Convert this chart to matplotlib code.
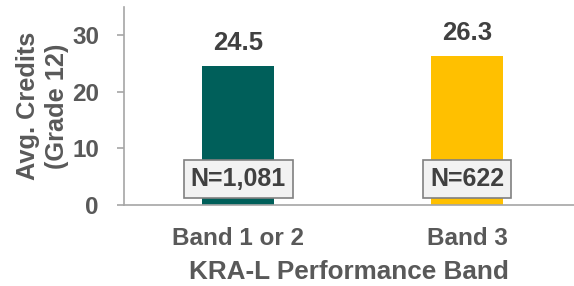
import matplotlib.pyplot as plt

plt.rcParams['font.family'] = ['Liberation Sans', 'DejaVu Sans']
plt.rcParams['font.weight'] = 'bold'

bands = ['Band 1 or 2', 'Band 3']
avg_credits = [24.5, 26.3]
n_labels = ['N=1,081', 'N=622']
bar_colors = ['#005F5A', '#FFC000']

fig = plt.figure(figsize=(5.74, 2.86), dpi=100)
ax = fig.add_axes([124 / 574, 81 / 286, 450 / 574, 198 / 286])

x = list(range(len(bands)))
ax.bar(x, avg_credits, width=0.315, color=bar_colors, zorder=2)

# value labels above bars
for xi, v in zip(x, avg_credits):
    ax.annotate(f'{v}', (xi, v), xytext=(0, 8), textcoords='offset points',
                ha='center', va='bottom', fontsize=18.5, fontweight='bold',
                color='#404040')

# N boxes near the base
for xi, lab in zip(x, n_labels):
    ax.text(xi, 4.6, lab, ha='center', va='center', fontsize=18,
            fontweight='bold', color='#404040', zorder=3,
            bbox=dict(boxstyle='square,pad=0.28', facecolor='#F2F2F2',
                      edgecolor='#808080', linewidth=1.2))

ax.set_xlim(-0.5, 1.467)
ax.set_ylim(0, 35)
ax.set_yticks([0, 10, 20, 30])
ax.set_xticks(x)
ax.set_xticklabels(bands)

for s in ['top', 'right']:
    ax.spines[s].set_visible(False)
for s in ['left', 'bottom']:
    ax.spines[s].set_color('#A6A6A6')
    ax.spines[s].set_linewidth(1.2)

ax.tick_params(axis='y', length=5, width=1.2, color='#A6A6A6', pad=13,
               labelsize=17.5, labelcolor='#595959')
ax.tick_params(axis='x', length=0, pad=16, labelsize=17.5, labelcolor='#595959')

ax.set_ylabel('Avg. Credits\n(Grade 12)', fontsize=18.3, fontweight='bold',
              color='#595959', linespacing=1.3, labelpad=2)
ax.set_xlabel('KRA-L Performance Band', fontsize=18.8, fontweight='bold',
              color='#595959', labelpad=7)

fig.savefig('out.png', dpi=100)
